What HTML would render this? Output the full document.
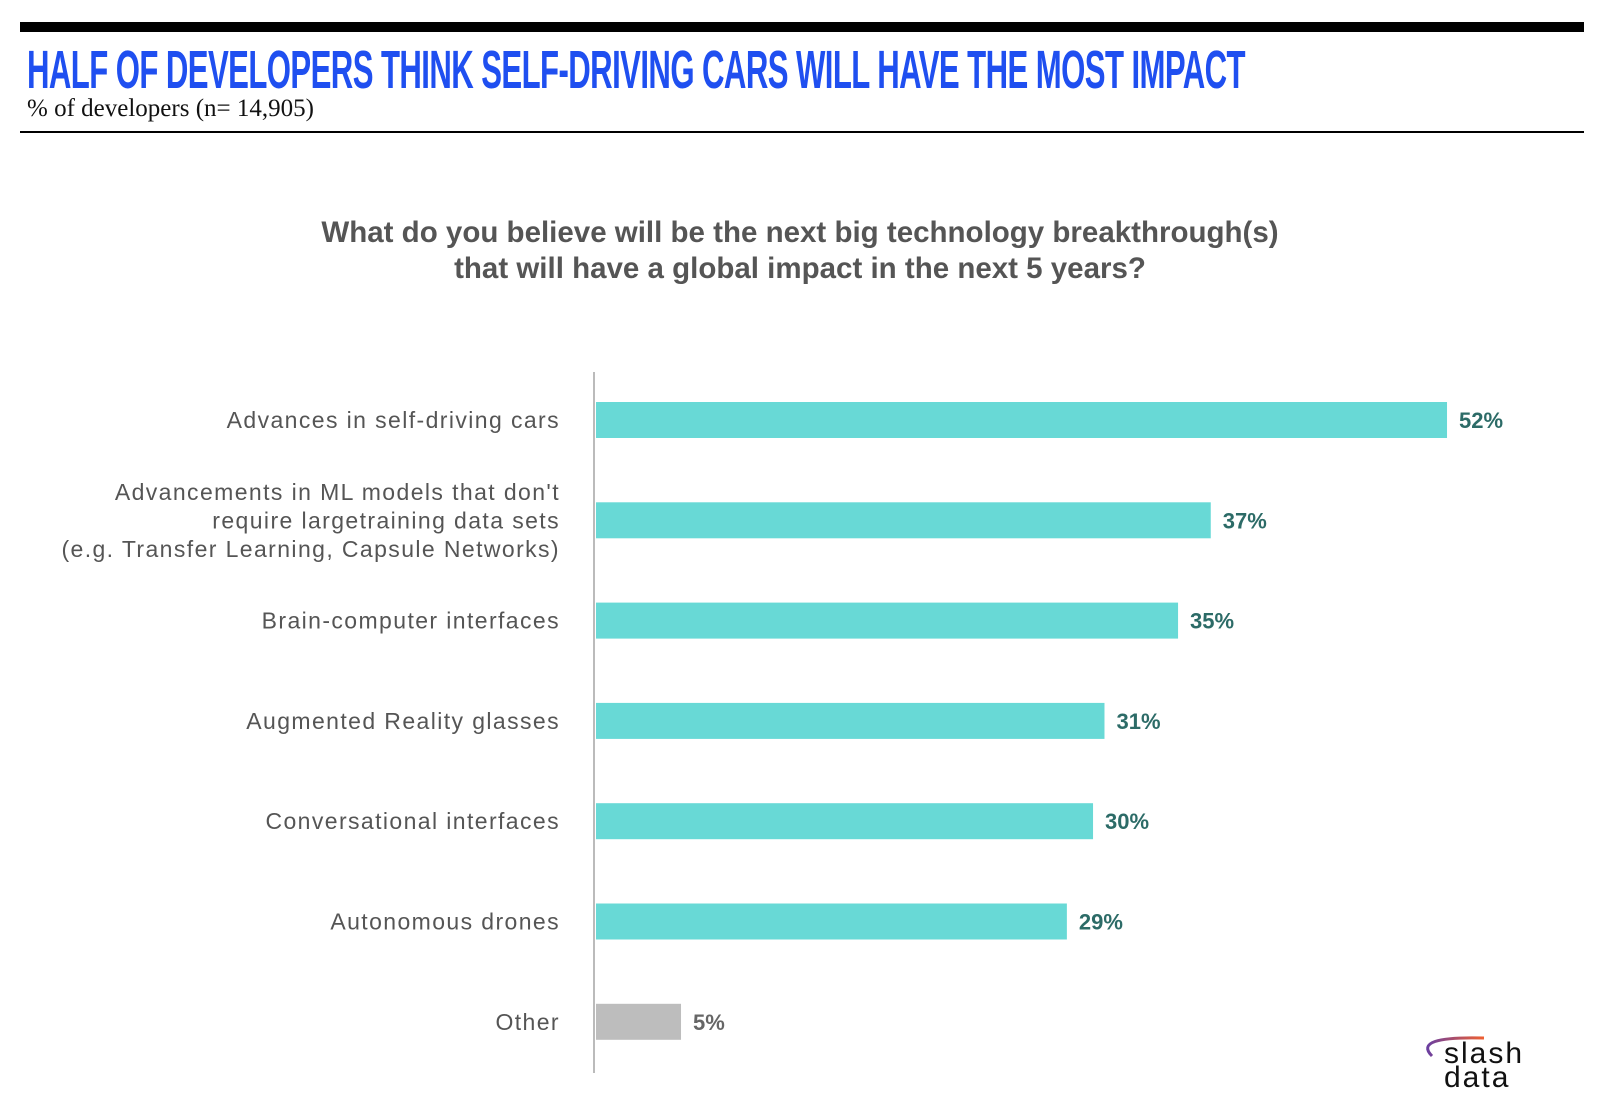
<!DOCTYPE html>
<html><head><meta charset="utf-8">
<style>
body{margin:0;width:1600px;height:1108px;background:#fff;overflow:hidden;position:relative;font-family:"Liberation Sans",sans-serif}
.abs{position:absolute}
#title{left:27px;top:39px;font-size:54px;font-weight:bold;color:#1f4ff0;white-space:nowrap;transform-origin:0 0;letter-spacing:-1px}
#sub{left:27px;top:95px;font-family:"Liberation Serif",serif;font-size:25px;color:#111}
.q{width:1600px;text-align:center;font-size:29.5px;font-weight:bold;color:#555;left:0}
</style></head><body>
<div class="abs" style="left:20px;top:22px;width:1564px;height:10px;background:#000"></div>
<div class="abs" id="title">HALF OF DEVELOPERS THINK SELF-DRIVING CARS WILL HAVE THE MOST IMPACT</div>
<div class="abs" id="sub">% of developers (n= 14,905)</div>
<div class="abs" style="left:20px;top:131px;width:1564px;height:2px;background:#000"></div>
<div class="abs q" style="top:216px">What do you believe will be the next big technology breakthrough(s)</div>
<div class="abs q" style="top:252px">that will have a global impact in the next 5 years?</div>
<svg class="abs" style="left:0;top:0" width="1600" height="1108" id="chart"></svg>
<div class="abs" style="left:1418px;top:1032px;width:130px;height:70px">
<svg width="130" height="70" style="position:absolute;left:0;top:0"><defs><linearGradient id="g" x1="0" x2="1"><stop offset="0" stop-color="#6b3fa0"/><stop offset="1" stop-color="#f06030"/></linearGradient></defs><path d="M14 24 Q-6 4 66 6" stroke="url(#g)" stroke-width="3" fill="none"/></svg>
<div style="position:absolute;left:26px;top:10px;font-size:30px;line-height:24px;color:#111;letter-spacing:2px">slash<br>data</div>
</div>
<script>
const categories=["Advances in self-driving cars","Advancements in ML models that don't|require largetraining data sets|(e.g. Transfer Learning, Capsule Networks)","Brain-computer interfaces","Augmented Reality glasses","Conversational interfaces","Autonomous drones","Other"];
const values=[52.05,37.6,35.6,31.1,30.4,28.8,5.2];
const valueLabels=["52%","37%","35%","31%","30%","29%","5%"];
const NS="http://www.w3.org/2000/svg";
const svg=document.getElementById('chart');
const x0=596,xs=16.35,y0=420,step=100.3,bh=36;
const xF=v=>x0+v*xs, yF=i=>y0+i*step;
function mk(t,a){const e=document.createElementNS(NS,t);for(const k in a)e.setAttribute(k,a[k]);svg.appendChild(e);return e;}
const ax=mk('line',{x1:594,x2:594,y1:372,y2:1073,stroke:'#bbb','stroke-width':2});


values.forEach((v,i)=>{
 const other=categories[i]==="Other";
 const r=mk('rect',{x:x0,y:yF(i)-bh/2,width:xF(v)-x0,height:bh,fill:other?'#bdbdbd':'#68d9d6'});
 
 
 const t=mk('text',{x:xF(v)+12,y:yF(i)+8,'font-size':22,'font-weight':'bold',fill:other?'#666':'#2c6b67','font-family':'Liberation Sans, sans-serif'});
 t.textContent=valueLabels[i];
 
 
 const lines=categories[i].split('|');
 lines.forEach((ln,j)=>{
  const c=mk('text',{x:560,y:yF(i)+8+(j-(lines.length-1)/2)*28.5,'text-anchor':'end','font-size':23,'letter-spacing':'1.4px',fill:'#555','font-family':'Liberation Sans, sans-serif'});
  c.textContent=ln;
  
  
 });
});
const ti=document.getElementById('title');const w=ti.getBoundingClientRect().width;
ti.style.transform='scaleX('+(1218/w)+')';
</script>
</body></html>
